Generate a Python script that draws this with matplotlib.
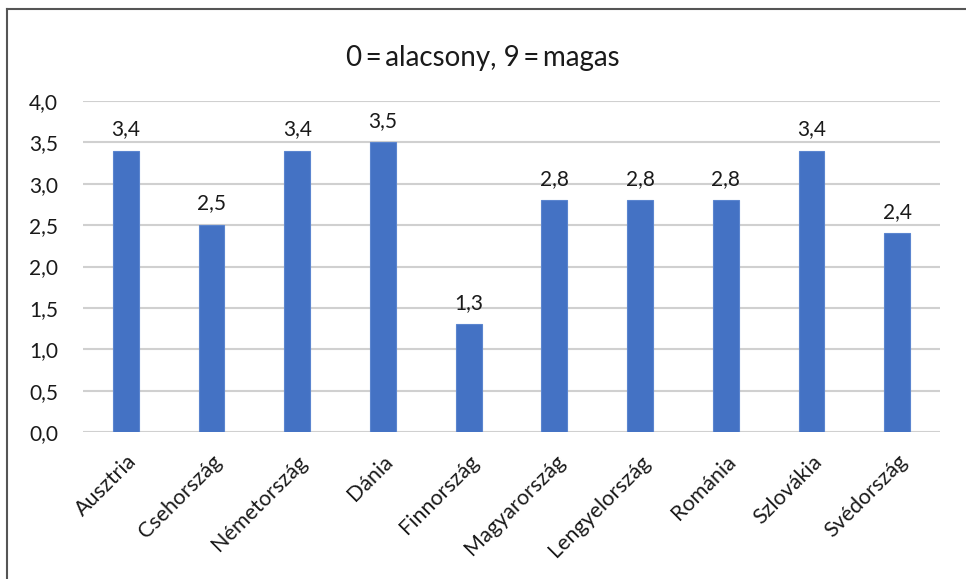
import numpy as np
import matplotlib.pyplot as plt
from matplotlib.lines import Line2D

# data
countries = ['Ausztria', 'Csehország', 'Németország', 'Dánia', 'Finnország',
             'Magyarország', 'Lengyelország', 'Románia', 'Szlovákia', 'Svédország']
values = [3.4, 2.5, 3.4, 3.5, 1.3, 2.8, 2.8, 2.8, 3.4, 2.4]
yticks = [0.0, 0.5, 1.0, 1.5, 2.0, 2.5, 3.0, 3.5, 4.0]
title = '0\u2009=\u2009alacsony, 9\u2009=\u2009magas'

plt.rcParams['font.family'] = ['Lato', 'DejaVu Sans']


def comma(v):
    return f'{v:.1f}'.replace('.', ',')


fig = plt.figure(figsize=(9.66, 5.79), dpi=100)
ax = fig.add_axes([83 / 966, 1 - 432 / 579, (940 - 83) / 966, (432 - 101) / 579])

x = np.arange(len(countries))
bars = ax.bar(x, values, width=0.30, color='#4472C4', edgecolor='#5b85cf',
              linewidth=0.8, zorder=3)
for b, v in zip(bars, values):
    ax.text(b.get_x() + b.get_width() / 2, v + 0.14, comma(v),
            ha='center', va='bottom', fontsize=15, color='#1a1a1a')

ax.set_xlim(-0.5, len(countries) - 0.5)
ax.set_ylim(0, 4.0)
ax.set_yticks(yticks)
ax.set_yticklabels([comma(t) for t in yticks], fontsize=15, color='#1a1a1a')
ax.set_xticks(x)
ax.set_xticklabels(countries, rotation=45, ha='right', rotation_mode='anchor',
                   fontsize=15.5, color='#1a1a1a')
ax.tick_params(length=0, axis='y', pad=18)
ax.tick_params(length=0, axis='x', pad=14)
ax.grid(axis='y', color='#d0d0d0', linewidth=1.5, zorder=0)
for s in ax.spines.values():
    s.set_visible(False)

fig.text(0.5, 1 - 58 / 579, title, ha='center', va='center', fontsize=20,
         color='#1a1a1a', family=['Lato', 'DejaVu Sans'])

# outer frame (top and left only visible)
fig.add_artist(Line2D([7 / 966, 7 / 966], [0, 1 - 9 / 579], transform=fig.transFigure,
                      color='#555555', linewidth=1.5))
fig.add_artist(Line2D([7 / 966, 1], [1 - 9 / 579, 1 - 9 / 579], transform=fig.transFigure,
                      color='#555555', linewidth=1.5))

fig.savefig('out.png', dpi=100)
